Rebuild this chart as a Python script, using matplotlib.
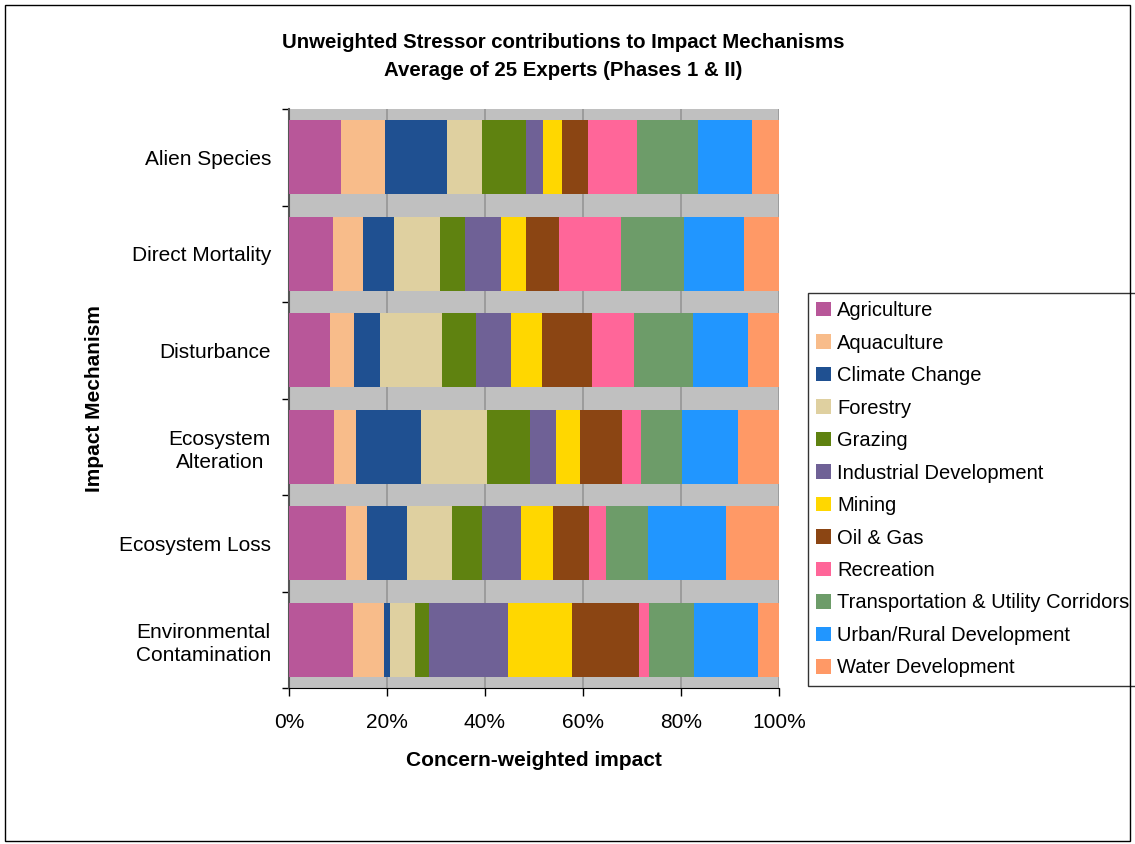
import numpy as np
import matplotlib
matplotlib.use("Agg")
import matplotlib.pyplot as plt
from matplotlib.patches import Rectangle

plt.rcParams['font.family'] = ['Liberation Sans', 'DejaVu Sans']

mechanisms = ["Alien Species", "Direct Mortality", "Disturbance",
              "Ecosystem\nAlteration", "Ecosystem Loss",
              "Environmental\nContamination"]

stressors = ["Agriculture", "Aquaculture", "Climate Change", "Forestry",
             "Grazing", "Industrial Development", "Mining", "Oil & Gas",
             "Recreation", "Transportation & Utility Corridors",
             "Urban/Rural Development", "Water Development"]

# percent share of each stressor, one list per impact mechanism
alien_species = [10.6, 9.0, 12.7, 7.1, 8.9, 3.6, 3.9, 5.3, 10.0, 12.3, 11.0, 5.6]
direct_mortality = [9.0, 6.1, 6.3, 9.4, 5.1, 7.4, 5.1, 6.7, 12.7, 12.8, 12.3, 7.1]
disturbance = [8.4, 4.9, 5.3, 12.7, 6.9, 7.2, 6.3, 10.2, 8.6, 12.0, 11.2, 6.3]
ecosystem_alteration = [9.2, 4.5, 13.3, 13.5, 8.6, 5.3, 4.9, 8.6, 3.9, 8.5, 11.3, 8.4]
ecosystem_loss = [11.6, 4.3, 8.2, 9.2, 6.1, 8.0, 6.5, 7.4, 3.3, 8.6, 15.9, 10.9]
env_contamination = [13.1, 6.3, 1.2, 5.1, 2.9, 16.1, 13.1, 13.7, 2.0, 9.1, 13.1, 4.3]

x_ticks = [0, 20, 40, 60, 80, 100]
x_tick_labels = ["0%", "20%", "40%", "60%", "80%", "100%"]

colors = ["#B85799", "#F8BC8A", "#1F5091", "#DFD0A0", "#5F8210", "#6F6196",
          "#FFD700", "#8B4513", "#FF6699", "#6D9C69", "#2196FF", "#FF9966"]

rows = [alien_species, direct_mortality, disturbance,
        ecosystem_alteration, ecosystem_loss, env_contamination]
data = np.array(rows, dtype=float)
data = data / data.sum(axis=1, keepdims=True) * 100

FS = 15

fig = plt.figure(figsize=(11.35, 8.44), dpi=100)
ax = fig.add_axes([289 / 1135, 1 - 688 / 844, 490 / 1135, 579 / 844])
ax.set_facecolor("#C0C0C0")

y = np.arange(len(mechanisms))
left = np.zeros(len(mechanisms))
for j, name in enumerate(stressors):
    ax.barh(y, data[:, j], left=left, height=0.77, color=colors[j],
            label=name, zorder=3, linewidth=0)
    left += data[:, j]

ax.set_xlim(0, 100)
ax.set_ylim(len(mechanisms) - 0.5, -0.5)

ax.set_xticks(x_ticks)
ax.set_xticklabels(x_tick_labels, fontsize=FS)
ax.xaxis.grid(True, color="#959595", linewidth=1.2, zorder=1)
ax.set_axisbelow(True)
ax.tick_params(axis="x", direction="out", length=6, width=1, pad=12)

ax.set_yticks(y)
ax.set_yticklabels(mechanisms, fontsize=FS, multialignment="center",
                   linespacing=1.3)
ax.set_yticks(np.arange(-0.5, len(mechanisms), 1), minor=True)
ax.tick_params(axis="y", which="major", length=0, pad=13)
ax.tick_params(axis="y", which="minor", direction="out", length=5, width=1)

for side in ("top", "right"):
    ax.spines[side].set_visible(False)
ax.spines["left"].set_color("#555555")
ax.spines["left"].set_linewidth(1.5)
ax.spines["bottom"].set_color("black")

ax.set_xlabel("Concern-weighted impact", fontsize=FS, fontweight="bold",
              labelpad=14)
ax.set_ylabel("Impact Mechanism", fontsize=FS, fontweight="bold",
              labelpad=11)

fig.text(563 / 1135, 1 - 43 / 844, "Unweighted Stressor contributions to Impact Mechanisms",
         ha="center", va="center", fontsize=14.7, fontweight="bold")
fig.text(563 / 1135, 1 - 71 / 844, "Average of 25 Experts (Phases 1 & II)",
         ha="center", va="center", fontsize=14.7, fontweight="bold")

leg = ax.legend(loc="upper left", bbox_to_anchor=(808 / 1135, 1 - 293 / 844),
                bbox_transform=fig.transFigure, fontsize=14.5, frameon=True,
                fancybox=False, edgecolor="black", borderpad=0.4,
                labelspacing=0.67, handlelength=0.75, handleheight=0.75,
                handletextpad=0.3, borderaxespad=0)
leg.get_frame().set_linewidth(1.0)

fig.patches.append(Rectangle((5 / 1135, 1 - 841 / 844), 1125 / 1135, 836 / 844,
                             transform=fig.transFigure, fill=False,
                             edgecolor="black", linewidth=1.0))

fig.savefig("out.png", dpi=100)
